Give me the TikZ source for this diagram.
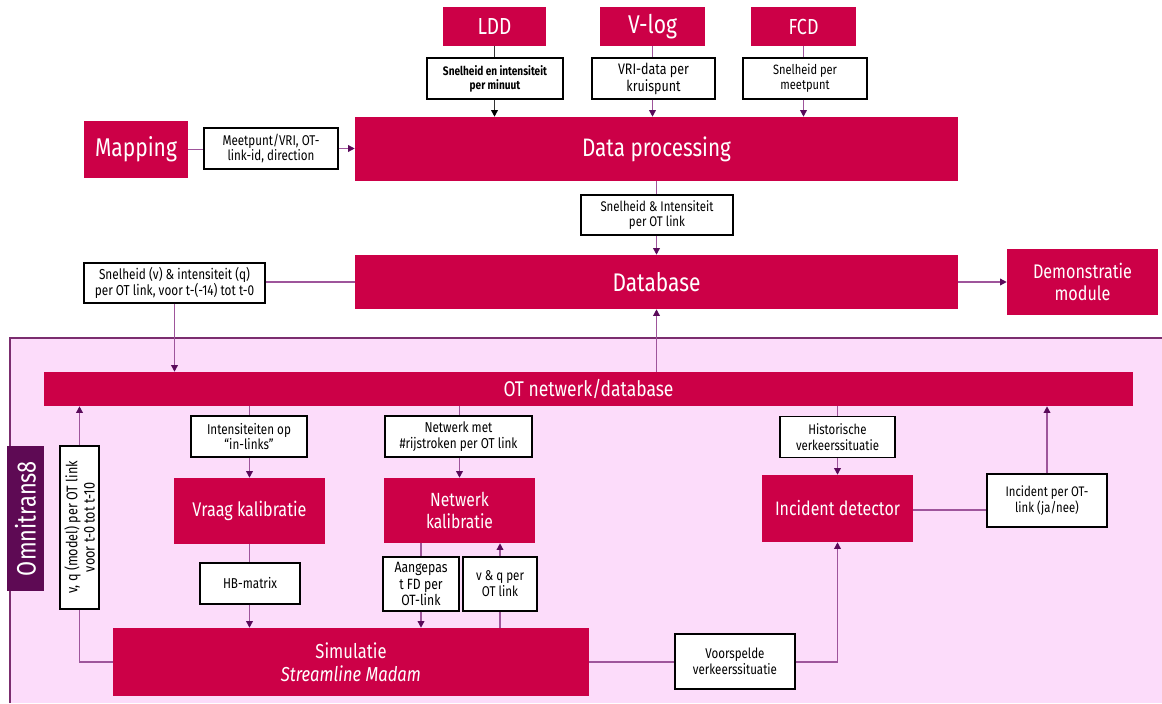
\documentclass[tikz,border=0pt]{standalone}
\usepackage{fontspec}
\setmainfont{Fira Sans}[FakeStretch=0.82]
\usetikzlibrary{arrows.meta}
\definecolor{crim}{HTML}{CC0047}
\definecolor{pinkbg}{HTML}{FCDCFA}
\definecolor{darkp}{HTML}{5E0A54}
\definecolor{borderp}{HTML}{7B2D6F}
\definecolor{linep}{HTML}{9E559B}
\definecolor{tipc}{HTML}{5A0A5A}
\definecolor{darkline}{HTML}{333333}
\makeatletter
\newlength\fitw
% #1 = target width of sample text in px, #2 = sample text
\newcommand\fit[2]{%
  \settowidth\fitw{\fontsize{10pt}{12pt}\selectfont #2}%
  \edef\fitsz{\fpeval{round(7.5*#1/\strip@pt\fitw,2)}}%
  \fontsize{\fitsz pt}{\fpeval{round(1.12*\fitsz,2)}pt}\selectfont}
\makeatother
\tikzset{
  sz/.style 2 args={minimum width=#1*0.75pt, minimum height=#2*0.75pt},
  redbox/.style={fill=crim, draw=none, text=white, align=center, inner sep=0pt},
  lbl/.style={fill=white, draw=black, line width=1.1pt, align=center, inner sep=0pt, text=black},
  conn/.style={draw=linep, line width=1pt},
  arr/.style={conn, -{Triangle[length=5pt,width=5pt,color=tipc]}},
  darkconn/.style={draw=darkline, line width=1pt},
  darkarr/.style={darkconn, -{Triangle[length=5pt,width=5pt,color=black]}},
}
\begin{document}
\begin{tikzpicture}[x=0.75pt,y=-0.75pt]
\useasboundingbox (0,0) rectangle (1162,703);
% Omnitrans region
\fill[pinkbg] (10,338) rectangle (1162,703);
\draw[borderp, line width=1.5pt] (10,703) -- (10,338) -- (1162,338);

% top sources
\node[redbox, sz={103}{39}, font={\fit{34}{LDD}}] (LDD) at (494.5,26.5) {LDD};
\node[redbox, sz={105}{39}, font={\fit{49}{V-log}}] (VLOG) at (652.5,26.5) {V-log};
\node[redbox, sz={105}{39}, font={\fit{30}{FCD}}] (FCD) at (803.5,26.5) {FCD};
\node[lbl, sz={136}{41}, font={\bfseries\fit{104}{Snelheid en intensiteit}}] (b1) at (495,78.5) {Snelheid en intensiteit\\per minuut};
\node[lbl, sz={123}{41}, font={\fit{71}{VRI-data per}}] (b2) at (653.5,78.5) {VRI-data per\\kruispunt};
\node[lbl, sz={124}{41}, font={\fit{64}{Snelheid per}}] (b3) at (805,78.5) {Snelheid per\\meetpunt};

\node[redbox, sz={603}{64}, font={\fit{149}{Data processing}}] (DP) at (656.5,149) {Data processing};
\node[redbox, sz={104}{57}, font={\fit{82}{Mapping}}] (MAP) at (136,149.5) {Mapping};
\node[lbl, sz={134}{41}, font={\fit{97}{Meetpunt/VRI, OT-}}] (b4) at (271,148.5) {Meetpunt/VRI, OT-\\link-id, direction};
\node[lbl, sz={152}{40}, font={\fit{113}{Snelheid \& Intensiteit}}] (b5) at (657,215) {Snelheid \& Intensiteit\\per OT link};

\node[redbox, sz={603}{54}, font={\fit{88}{Database}}] (DB) at (656.5,282) {Database};
\node[redbox, sz={151}{66}, font={\fit{99}{Demonstratie}}] (DEMO) at (1082.5,282) {Demonstratie\\module};
\node[lbl, sz={181}{40}, font={\fit{151}{Snelheid (v) \& intensiteit (q)}}] (b6) at (174.5,283) {Snelheid (v) \& intensiteit (q)\\per OT link, voor t-(-14) tot t-0};

% inside Omnitrans
\node[redbox, sz={1089}{34}, font={\fit{170}{OT netwerk/database}}] (OT) at (588.5,389) {OT netwerk/database};
\node[fill=darkp, text=white, inner sep=0pt, rotate=90, sz={145}{37}, font={\fit{115}{Omnitrans8}}] (OMNI) at (25.5,518.5) {Omnitrans8};
\node[lbl, rotate=90, sz={163}{39}, font={\fit{133}{v, q (model) per OT link}}] (b7) at (79.5,527.5) {v, q (model) per OT link\\voor t-0 tot t-10};

\node[lbl, sz={116}{41}, font={\fit{84}{Intensiteiten op}}] (b8) at (249,436.5) {Intensiteiten op\\“in-links”};
\node[lbl, sz={147}{41}, font={\fit{118}{\#rijstroken per OT link}}] (b9) at (458.5,436.5) {Netwerk met\\\#rijstroken per OT link};
\node[lbl, sz={115}{41}, font={\fit{83}{verkeerssituatie}}] (b10) at (837.5,437) {Historische\\verkeerssituatie};

\node[redbox, sz={151}{66}, font={\fit{114}{Vraag kalibratie}}] (VK) at (249.5,511) {Vraag kalibratie};
\node[redbox, sz={151}{65}, font={\fit{67}{kalibratie}}] (NK) at (459.5,510.5) {Netwerk\\kalibratie};
\node[redbox, sz={151}{67}, font={\fit{125}{Incident detector}}] (ID) at (837.5,508.5) {Incident detector};
\node[lbl, sz={120}{53}, font={\fit{83}{Incident per OT-}}] (b11) at (1047,500.5) {Incident per OT-\\link (ja/nee)};

\node[lbl, sz={100}{41}, font={\fit{54}{HB-matrix}}] (b12) at (250,583.5) {HB-matrix};
\node[lbl, sz={76}{54}, font={\fit{53}{Aangepas}}] (b13) at (421,584) {Aangepas\\t FD per\\OT-link};
\node[lbl, sz={74}{54}, font={\fit{48}{v \& q per}}] (b14) at (500,584) {v \& q per\\OT link};

\node[redbox, sz={476}{68}, font={\fit{140}{\itshape Streamline Madam}}] (SIM) at (351,662) {Simulatie\\\textit{Streamline Madam}};
\node[lbl, sz={120}{55}, font={\fit{84}{verkeerssituatie}}] (b15) at (735,661.5) {Voorspelde\\verkeerssituatie};

% connectors
\draw[darkconn] (LDD.south) -- (LDD.south |- b1.north);
\draw[darkarr] (b1.south -| LDD) -- (DP.north -| LDD);
\draw[conn] (VLOG.south) -- (VLOG.south |- b2.north);
\draw[arr] (b2.south -| VLOG) -- (DP.north -| VLOG);
\draw[conn] (FCD.south) -- (FCD.south |- b3.north);
\draw[arr] (b3.south -| FCD) -- (DP.north -| FCD);
\draw[conn] (MAP.east) -- (MAP.east -| b4.west);
\draw[arr] (b4.east) -- (b4.east -| DP.west);
\draw[conn] (DP.south) -- (DP.south |- b5.north);
\draw[arr] (b5.south -| DP) -- (DB.north);
\draw[conn] (DB.west) -- (DB.west -| b6.east);
\draw[arr] (b6.south) -- (b6.south |- OT.north);
\draw[arr] (DB.east) -- (DB.east -| DEMO.west);
\draw[arr] (OT.north -| DB) -- (DB.south);
\draw[conn] (OT.south -| VK) -- (VK |- b8.north);
\draw[arr] (b8.south -| VK) -- (VK.north);
\draw[conn] (OT.south -| NK) -- (NK |- b9.north);
\draw[arr] (b9.south -| NK) -- (NK.north);
\draw[conn] (OT.south -| ID) -- (ID |- b10.north);
\draw[arr] (b10.south -| ID) -- (ID.north);
\draw[conn] (VK.south) -- (VK |- b12.north);
\draw[arr] (VK |- b12.south) -- (VK |- SIM.north);
\draw[conn] (b13 |- NK.south) -- (b13.north);
\draw[arr] (b13.south) -- (b13 |- SIM.north);
\draw[conn] (b14 |- SIM.north) -- (b14.south);
\draw[arr] (b14.north) -- (b14 |- NK.south);
\draw[conn] (SIM.west) -| (b7.west);
\draw[arr] (b7.east) -- (b7.east |- OT.south);
\draw[conn] (SIM.east) -- (SIM.east -| b15.west);
\draw[arr] (b15.east |- SIM.east) -| (ID.south);
\draw[conn] (ID.east |- 0,510) -- (b11.west |- 0,510);
\draw[arr] (b11.north) -- (b11.north |- OT.south);
\end{tikzpicture}
\end{document}
